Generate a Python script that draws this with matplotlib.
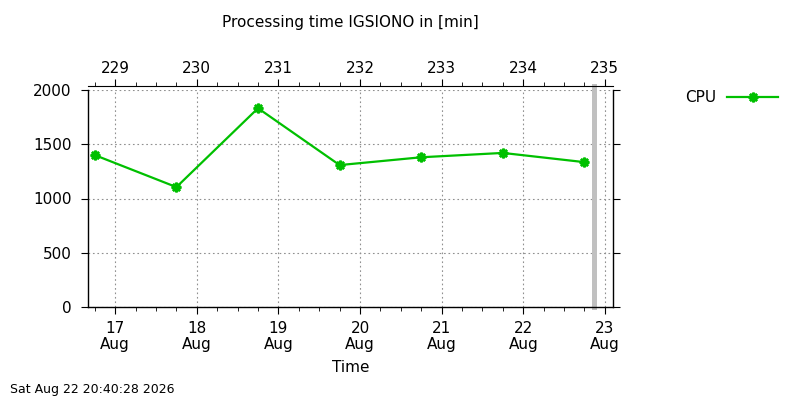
import pandas as pd
import matplotlib
matplotlib.use("Agg")
from matplotlib import pyplot as plt
import matplotlib.dates as mdates

# CPU processing time per run (minutes)
run_times = ["2026-08-16 18:00", "2026-08-17 18:00", "2026-08-18 18:00",
             "2026-08-19 18:00", "2026-08-20 18:00", "2026-08-21 18:00",
             "2026-08-22 18:00"]
cpu_minutes = [1400, 1105, 1832, 1308, 1380, 1420, 1335]
now_time = "2026-08-22 20:40:28"
x_start = "2026-08-16 16:00"
x_end = "2026-08-23 02:20"

times = pd.to_datetime(run_times)
green = "#00c000"

fig = plt.figure(figsize=(8, 4), dpi=100)
ax = fig.add_axes([0.11, 0.2325, 0.656, 0.5425])

ax.plot(times, cpu_minutes, color=green, lw=1.6, marker=(8, 2, 0),
        ms=7, mew=1.8, mec=green, label="CPU", zorder=3)

# marker for current time
ax.axvline(pd.Timestamp(now_time), ymin=0, ymax=1.02, color="#c0c0c0",
           lw=3.6, clip_on=False, zorder=2)

ax.set_xlim(pd.Timestamp(x_start), pd.Timestamp(x_end))
ax.set_ylim(0, 2000)
ax.set_yticks([0, 500, 1000, 1500, 2000])
ax.xaxis.set_major_locator(mdates.DayLocator())
ax.xaxis.set_minor_locator(mdates.HourLocator(byhour=[6, 12, 18]))
ax.xaxis.set_major_formatter(mdates.DateFormatter("%d\n%b"))
ax.grid(True, which="major", color="#909090", ls=(0, (1.5, 2.5)), lw=0.8)

ax.spines["top"].set_visible(False)
for s in ["left", "bottom", "right"]:
    ax.spines[s].set_linewidth(1.0)
ax.tick_params(axis="x", which="major", direction="out", length=5,
               labelsize=11, pad=5)
ax.tick_params(axis="y", which="major", direction="out", length=5,
               labelsize=11, pad=7, right=True)
ax.tick_params(axis="x", which="minor", direction="out", length=3)
for lbl in ax.get_xticklabels():
    lbl.set_linespacing(1.1)

# day-of-year axis on top
top = ax.twiny()
top.set_xlim(ax.get_xlim())
top.xaxis.set_major_locator(mdates.DayLocator())
top.xaxis.set_minor_locator(mdates.HourLocator(byhour=[6, 12, 18]))
top.xaxis.set_major_formatter(mdates.DateFormatter("%j"))
top.spines["top"].set_position(("outward", 3))
for s in ["left", "bottom", "right"]:
    top.spines[s].set_visible(False)
top.tick_params(axis="x", which="major", direction="out", length=5,
                labelsize=11, pad=2)
top.tick_params(axis="x", which="minor", direction="out", length=3)

ax.set_xlabel("Time", fontsize=11, labelpad=6)
fig.text(0.4375, 0.9425, "Processing time IGSIONO in [min]", ha="center",
         va="center", fontsize=11)
fig.text(0.0125, 0.025, "Sat Aug 22 20:40:28 2026", ha="left",
         va="center", fontsize=9)

ax.legend(loc="upper left", bbox_to_anchor=(0.857, 0.775),
          bbox_transform=fig.transFigure, frameon=False, markerfirst=False,
          fontsize=11, handlelength=3.3, handletextpad=0.7, borderpad=0,
          borderaxespad=0)

fig.savefig("out.png", dpi=100)
